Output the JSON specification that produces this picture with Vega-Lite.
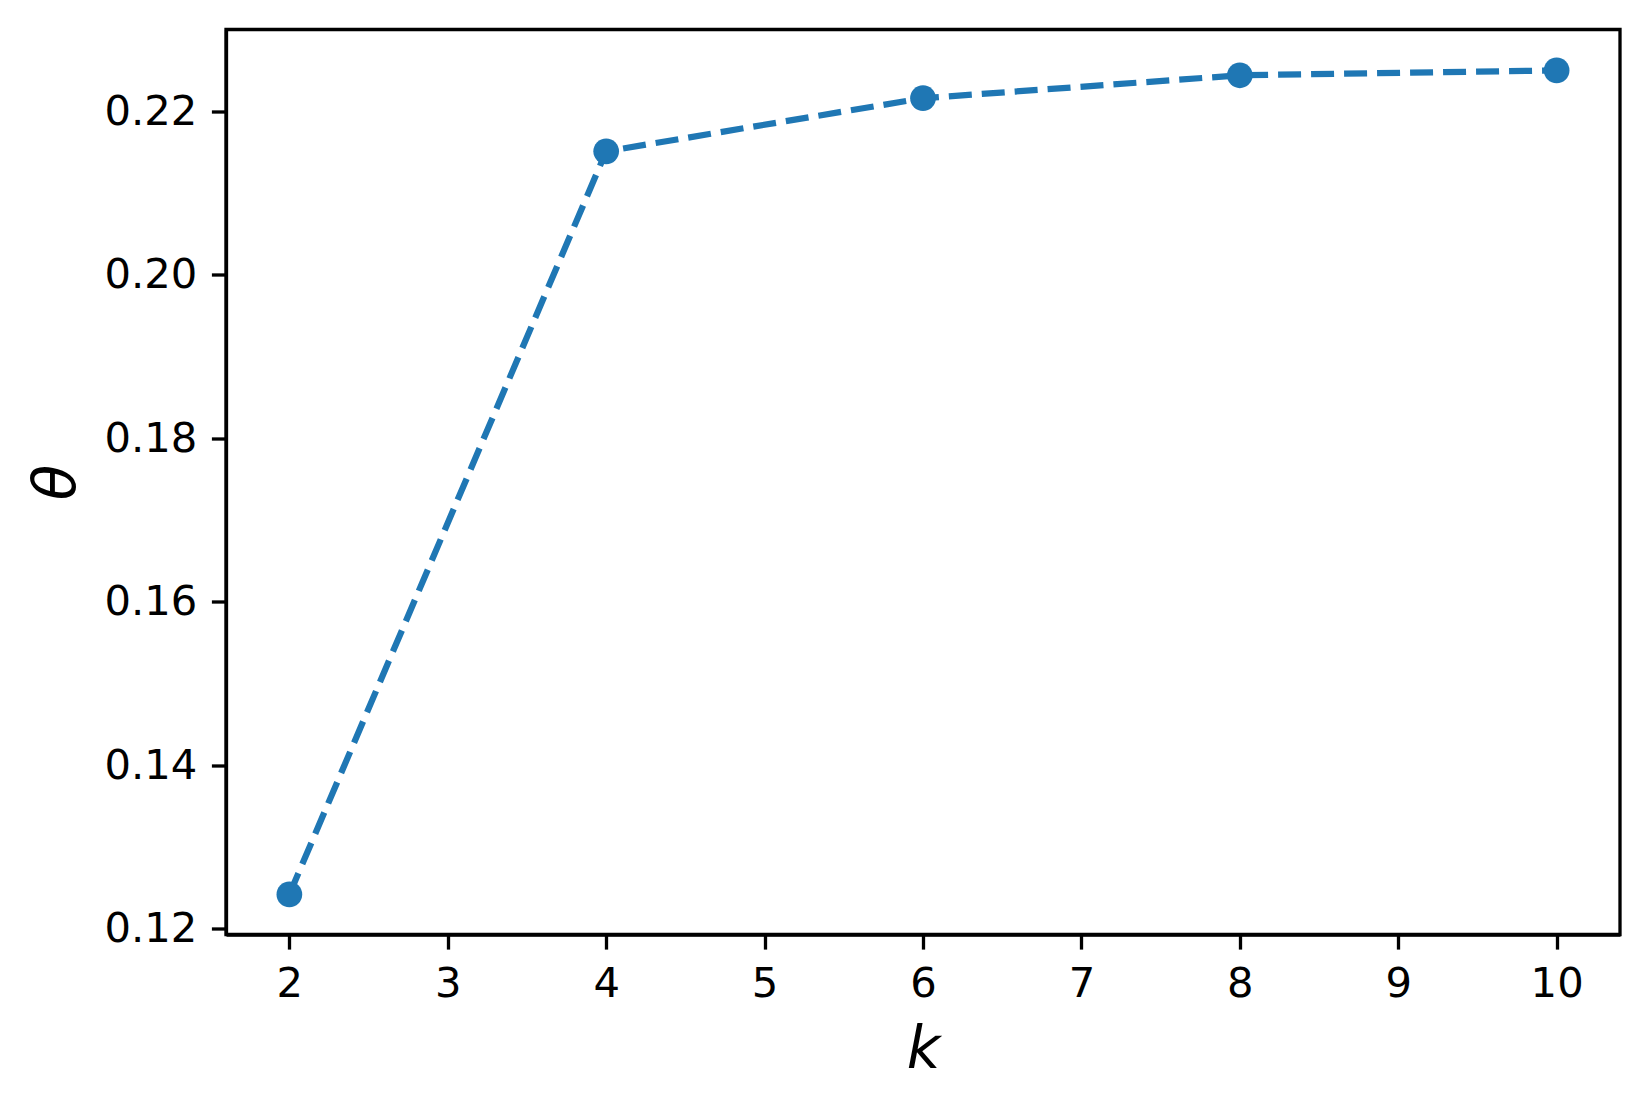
{
  "$schema": "https://vega.github.io/schema/vega-lite/v6.json",
  "width": 1394,
  "height": 905,
  "autosize": {"type": "none"},
  "padding": {"left": 226, "top": 29.5, "right": 30, "bottom": 173.5},
  "background": "white",
  "config": {
    "view": {"stroke": "black", "strokeWidth": 3.3},
    "axis": {
      "grid": false,
      "domainColor": "black",
      "domainWidth": 3.3,
      "tickColor": "black",
      "tickWidth": 3.3,
      "tickSize": 14.6,
      "labelPadding": 14.6,
      "labelFont": "DejaVu Sans",
      "labelFontSize": 41.7,
      "labelColor": "black",
      "titleFont": "DejaVu Sans",
      "titleFontSize": 58,
      "titleFontStyle": "italic",
      "titleFontWeight": "normal",
      "titleColor": "black"
    }
  },
  "data": {
    "values": [
      {"k": 2, "theta": 0.1242},
      {"k": 4, "theta": 0.2151},
      {"k": 6, "theta": 0.2216},
      {"k": 8, "theta": 0.2244},
      {"k": 10, "theta": 0.2250}
    ]
  },
  "encoding": {
    "x": {
      "field": "k",
      "type": "quantitative",
      "scale": {"domain": [1.6, 10.4], "nice": false, "zero": false},
      "axis": {
        "title": "k",
        "values": [2, 3, 4, 5, 6, 7, 8, 9, 10],
        "format": "d",
        "labelFlush": false,
        "titleX": 697,
        "titleY": 133,
        "titleBaseline": "alphabetic",
        "titleAlign": "center"
      }
    },
    "y": {
      "field": "theta",
      "type": "quantitative",
      "scale": {"domain": [0.1193, 0.2300], "nice": false, "zero": false},
      "axis": {
        "title": "θ",
        "values": [0.12, 0.14, 0.16, 0.18, 0.2, 0.22],
        "format": ".2f",
        "labelFlush": false,
        "titleX": -152,
        "titleY": 452.5,
        "titleAngle": -90,
        "titleBaseline": "alphabetic",
        "titleAlign": "center"
      }
    }
  },
  "layer": [
    {
      "mark": {"type": "line", "color": "#1f77b4", "strokeWidth": 6.25, "strokeDash": [23, 10]}
    },
    {
      "mark": {"type": "point", "filled": true, "opacity": 1, "color": "#1f77b4", "size": 660, "shape": "circle"}
    }
  ]
}
